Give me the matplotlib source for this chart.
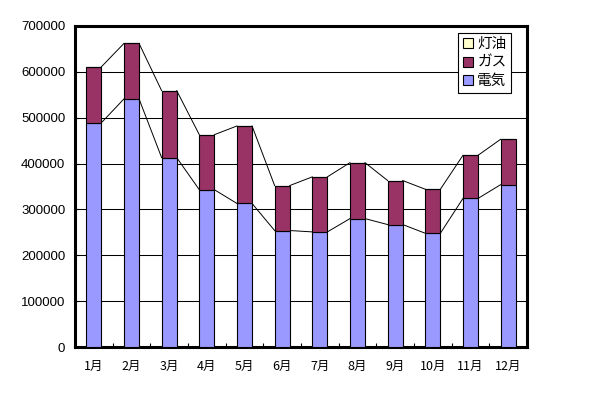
import numpy as np
import matplotlib
matplotlib.use('Agg')
import matplotlib.pyplot as plt
from matplotlib.patches import Patch

plt.rcParams['font.family'] = ['Noto Sans CJK JP', 'DejaVu Sans']

# データ (月別, 単位は読み取り値)
months = ['1月', '2月', '3月', '4月', '5月', '6月', '7月', '8月', '9月', '10月', '11月', '12月']
denki = [489000, 541000, 413000, 343000, 313000, 254000, 251000, 280000, 267000, 248000, 324000, 354000]
gas = [122000, 121000, 146000, 120000, 169000, 98000, 120000, 122000, 96000, 96000, 94000, 99000]
touyu = [0, 0, 0, 0, 0, 0, 0, 0, 0, 0, 0, 0]
yticks = [0, 100000, 200000, 300000, 400000, 500000, 600000, 700000]

c_denki = '#9999FF'
c_gas = '#993366'
c_touyu = '#FFFFCC'

fig = plt.figure(figsize=(5.98, 3.93), dpi=100)
ax = fig.add_axes([75 / 598, 46 / 393, 452 / 598, 321 / 393])

x = np.arange(len(months))
w = 0.4
denki = np.array(denki)
gas = np.array(gas)
touyu = np.array(touyu)

# 目盛線
for v in yticks[1:-1]:
    ax.axhline(v, color='black', lw=0.75, zorder=1)

ax.bar(x, denki, w, color=c_denki, edgecolor='black', lw=0.8, zorder=3)
ax.bar(x, gas, w, bottom=denki, color=c_gas, edgecolor='black', lw=0.8, zorder=3)
ax.bar(x, touyu, w, bottom=denki + gas, color=c_touyu, edgecolor='black', lw=0.8, zorder=3)

# 区分線 (系列線)
for level in [denki, denki + gas]:
    for i in range(len(x) - 1):
        ax.plot([x[i] + w / 2, x[i + 1] - w / 2], [level[i], level[i + 1]],
                color='black', lw=0.7, zorder=2)

ax.set_xlim(-0.5, len(x) - 0.5)
ax.set_ylim(0, 700000)
ax.set_yticks(yticks)
ax.set_yticklabels([str(v) for v in yticks], family=['Liberation Sans', 'DejaVu Sans'], fontsize=9.5)
ax.set_xticks(x)
ax.set_xticklabels(months, fontsize=9)
ax.set_xticks(np.arange(len(x) + 1) - 0.5, minor=True)
ax.tick_params(axis='x', which='major', length=0, pad=9)
ax.tick_params(axis='x', which='minor', direction='in', length=3, width=0.8)
ax.tick_params(axis='y', direction='in', length=3, width=0.8, pad=7)

for s in ax.spines.values():
    s.set_linewidth(2.2)
    s.set_color('black')

handles = [Patch(facecolor=c_touyu, edgecolor='black', lw=0.8),
           Patch(facecolor=c_gas, edgecolor='black', lw=0.8),
           Patch(facecolor=c_denki, edgecolor='black', lw=0.8)]
leg = ax.legend(handles, ['灯油', 'ガス', '電気'], loc='upper right',
                bbox_to_anchor=(511 / 598, 1 - 33 / 393), bbox_transform=fig.transFigure,
                borderaxespad=0, fancybox=False, framealpha=1, edgecolor='black',
                fontsize=10.5, handlelength=0.7, handleheight=0.7, handletextpad=0.3,
                labelspacing=0.3, borderpad=0.3)
leg.get_frame().set_linewidth(0.8)
leg.set_zorder(5)

fig.savefig('out.png', dpi=100)
